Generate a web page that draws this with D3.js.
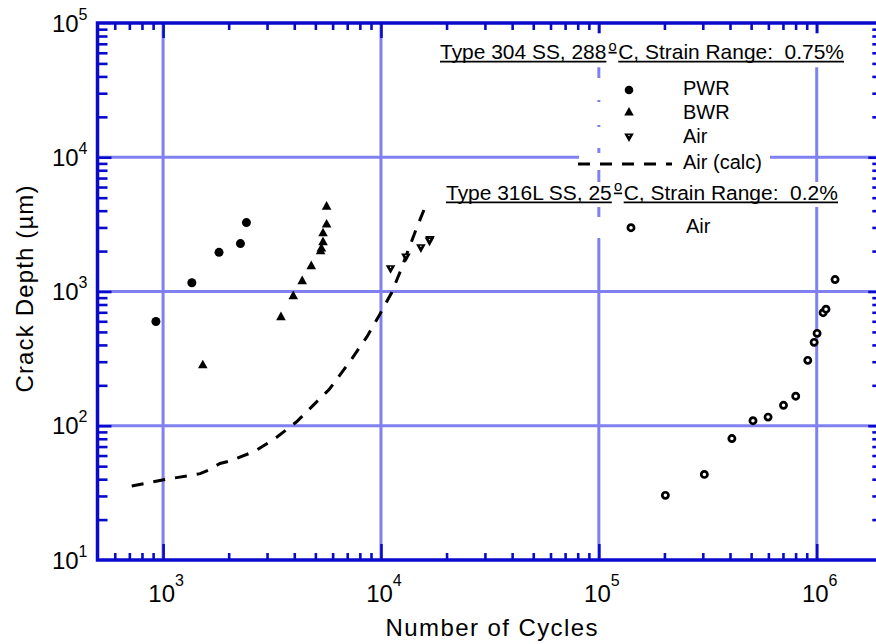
<!DOCTYPE html>
<html><head><meta charset="utf-8">
<script src="https://cdn.jsdelivr.net/npm/d3@7"></script>
<style>
body{margin:0;background:#fff}
svg{display:block}
text{font-family:"Liberation Sans",Arial,Helvetica,sans-serif;fill:#000;white-space:pre}
</style>
</head><body>
<svg id="chart" width="876" height="644"></svg>
<script>
// ---- data ----
const pwrCycles = [927, 1355, 1806, 2265, 2413];
const pwrDepth  = [598, 1161, 1958, 2275, 3260];

const bwrCycles = [1521, 3475, 3957, 4350, 4788, 5285, 5330, 5420, 5420, 5630, 5630];
const bwrDepth  = [282, 644, 923, 1193, 1543, 1995, 2090, 2330, 2715, 3150, 4285];

const air304Cycles = [11070, 13020, 15250, 16790, 16700];
const air304Depth  = [1490, 1820, 2135, 2465, 2395];

const airCalcCycles = [718, 1040, 1306, 1479, 1614, 1824, 2028, 2640, 3265, 4100, 5795, 7265, 8600, 9815, 11190, 12220, 14480, 15820];
const airCalcDepth  = [35.6, 40.0, 42.4, 44.0, 46.7, 52.4, 54.7, 64.6, 80.3, 107, 187, 307, 457, 663, 978, 1391, 2890, 4120];

const air316Cycles = [202000, 305000, 408000, 510000, 598000, 704000, 801000, 910000, 973000, 1004000, 1070000, 1103000, 1214000];
const air316Depth  = [30.3, 43.4, 80.3, 109, 116, 142, 166, 307, 418, 488, 695, 739, 1228];

const xDecadeExps = [3, 4, 5, 6];
const yDecadeExps = [1, 2, 3, 4, 5];
const xTitle = "Number of Cycles";
const yTitle = "Crack Depth (\u00b5m)";
const header304 = ["Type 304 SS, 288", "o", "C, Strain Range:  0.75%"];
const header316 = ["Type 316L SS, 25", "o", "C, Strain Range:  0.2%"];
const legendLabels = ["PWR", "BWR", "Air", "Air (calc)", "Air"];

// ---- chart ----
const svg = d3.select("#chart");
const axisCol = "#0a0acc", gridCol = "#8080f0";
const x = d3.scaleLog().domain([500, 2e6]).range([97.5, 882.3]);
const y = d3.scaleLog().domain([10, 1e5]).range([560, 23]);

svg.append("rect").attr("width", 876).attr("height", 644).attr("fill", "#fff");

// gridlines
const gridX = xDecadeExps.map(e => Math.pow(10, e));
const gridY = [2, 3, 4].map(e => Math.pow(10, e));
svg.append("g").selectAll("line").data(gridX).join("line")
  .attr("x1", d => x(d)).attr("x2", d => x(d)).attr("y1", y.range()[1]).attr("y2", y.range()[0])
  .attr("stroke", gridCol).attr("stroke-width", 3);
svg.append("g").selectAll("line").data(gridY).join("line")
  .attr("y1", d => y(d)).attr("y2", d => y(d)).attr("x1", x.range()[0]).attr("x2", x.range()[1])
  .attr("stroke", gridCol).attr("stroke-width", 3);

// ticks
const mult = [2, 3, 4, 5, 6, 7, 8, 9];
const minorX = [2, 3, 4, 5, 6].flatMap(e => mult.map(m => m * Math.pow(10, e))).filter(v => v > 500 && v < 2e6);
const minorY = [1, 2, 3, 4].flatMap(e => mult.map(m => m * Math.pow(10, e)));
const majorY = gridY;
const gAx = svg.append("g");
function addAxis(fn, scale, vals, size, tr) {
  gAx.append("g").attr("transform", tr)
    .call(fn(scale).tickValues(vals).tickSize(size).tickFormat(""))
    .call(g => g.select(".domain").remove())
    .call(g => g.selectAll("line").attr("stroke", axisCol).attr("stroke-width", 2.6));
}
const [x0, x1] = x.range(), [yb, yt] = y.range();
addAxis(d3.axisBottom, x, minorX, -7, `translate(0,${yb})`);
addAxis(d3.axisBottom, x, gridX, -16, `translate(0,${yb})`);
addAxis(d3.axisTop, x, minorX, -7, `translate(0,${yt})`);
addAxis(d3.axisTop, x, gridX, -15, `translate(0,${yt})`);
addAxis(d3.axisLeft, y, minorY, -10, `translate(${x0},0)`);
addAxis(d3.axisLeft, y, majorY, -14, `translate(${x0},0)`);
addAxis(d3.axisRight, y, minorY, -10, `translate(${x1},0)`);
addAxis(d3.axisRight, y, majorY, -14, `translate(${x1},0)`);
svg.append("rect").attr("x", x0).attr("y", yt).attr("width", x1 - x0).attr("height", yb - yt)
  .attr("fill", "none").attr("stroke", axisCol).attr("stroke-width", 3.5);

// tick labels
const xl = svg.append("g").selectAll("text").data(xDecadeExps).join("text")
  .attr("x", e => x(Math.pow(10, e)) + 3).attr("y", 602).attr("text-anchor", "middle").attr("font-size", 24);
xl.append("tspan").text("10");
xl.append("tspan").attr("dy", -16).attr("font-size", 16).text(e => e);
const yl = svg.append("g").selectAll("text").data(yDecadeExps).join("text")
  .attr("x", 87.5).attr("y", e => y(Math.pow(10, e)) + 8.5).attr("text-anchor", "end").attr("font-size", 24);
yl.append("tspan").text("10");
yl.append("tspan").attr("dy", -12).attr("font-size", 16).text(e => e);

// axis titles
svg.append("text").attr("x", 491.5).attr("y", 636).attr("text-anchor", "middle")
  .attr("font-size", 24).attr("textLength", 212).attr("lengthAdjust", "spacing").text(xTitle);
svg.append("text").attr("transform", "translate(33,289) rotate(-90)").attr("text-anchor", "middle")
  .attr("font-size", 24).attr("textLength", 207).attr("lengthAdjust", "spacing").text(yTitle);

// ---- legend white boxes ----
const boxes = [[579, 78, 191, 22], [579, 102, 191, 23], [579, 127, 191, 21], [579, 153, 191, 17], [579, 217, 191, 21]];
svg.append("g").selectAll("rect").data(boxes).join("rect")
  .attr("x", d => d[0]).attr("y", d => d[1]).attr("width", d => d[2]).attr("height", d => d[3]).attr("fill", "#fff");

// ---- data marks ----
const upTri = "M0,-5.6 L4.8,3 L-4.8,3 Z";
const dnTri = "M0,5.6 L4.8,-3 L-4.8,-3 Z";

const calcPts = airCalcCycles.map((c, i) => [c, airCalcDepth[i]]);
svg.append("path").datum(calcPts)
  .attr("d", d3.line().x(d => x(d[0])).y(d => y(d[1])))
  .attr("fill", "none").attr("stroke", "#000").attr("stroke-width", 3).attr("stroke-dasharray", "12,10");

svg.append("g").selectAll("circle").data(pwrCycles.map((c, i) => [c, pwrDepth[i]])).join("circle")
  .attr("cx", d => x(d[0])).attr("cy", d => y(d[1])).attr("r", 4.5).attr("fill", "#000");

svg.append("g").selectAll("path").data(bwrCycles.map((c, i) => [c, bwrDepth[i]])).join("path")
  .attr("transform", d => `translate(${x(d[0])},${y(d[1])})`).attr("d", upTri).attr("fill", "#000");

const ag = svg.append("g").selectAll("g").data(air304Cycles.map((c, i) => [c, air304Depth[i]])).join("g")
  .attr("transform", d => `translate(${x(d[0])},${y(d[1])})`);
ag.append("path").attr("d", dnTri).attr("fill", "#000");
ag.append("circle").attr("cy", -1).attr("r", 0.7).attr("fill", "#fff");

svg.append("g").selectAll("circle").data(air316Cycles.map((c, i) => [c, air316Depth[i]])).join("circle")
  .attr("cx", d => x(d[0])).attr("cy", d => y(d[1])).attr("r", 3.1)
  .attr("fill", "#fff").attr("stroke", "#000").attr("stroke-width", 2.7);

// ---- legend ----
function header(cx, base, parts, target, boxTop, boxBot) {
  const g = svg.append("g");
  const bg = g.append("rect").attr("fill", "#fff");
  const inner = g.append("g");
  const t1 = inner.append("text").attr("x", 0).attr("y", 0).attr("font-size", 20).text(parts[0]);
  const w1 = t1.node().getComputedTextLength();
  const t2 = inner.append("text").attr("x", w1 + 2).attr("y", -8.6).attr("font-size", 14).text(parts[1]);
  const w2 = t2.node().getComputedTextLength();
  const s3 = w1 + 2 + w2 + 1.5;
  const t3 = inner.append("text").attr("x", s3).attr("y", 0).attr("font-size", 20).text(parts[2]);
  const w3 = t3.node().getComputedTextLength();
  const total = s3 + w3;
  inner.append("line").attr("x1", 0).attr("x2", w1).attr("y1", 2.4).attr("y2", 2.4);
  inner.append("line").attr("x1", w1 + 2).attr("x2", w1 + 2 + w2).attr("y1", -6.6).attr("y2", -6.6);
  inner.append("line").attr("x1", s3).attr("x2", total).attr("y1", 2.4).attr("y2", 2.4);
  inner.selectAll("line").attr("stroke", "#000").attr("stroke-width", 1.7);
  const k = target / total;
  inner.attr("transform", `translate(${cx - target / 2},${base}) scale(${k},1)`);
  bg.attr("x", cx - target / 2 - 4).attr("width", target + 8).attr("y", base - boxTop).attr("height", boxTop + boxBot);
}
header(642, 59.3, header304, 404, 26, 8);
header(642, 200, header316, 392, 18, 7);

const lg = svg.append("g");
lg.append("circle").attr("cx", 629).attr("cy", 90).attr("r", 4.3).attr("fill", "#000");
lg.append("path").attr("transform", "translate(629,112.5)").attr("d", upTri).attr("fill", "#000");
lg.append("path").attr("transform", "translate(629,136.5)").attr("d", dnTri).attr("fill", "#000");
lg.append("circle").attr("cx", 629).attr("cy", 135.5).attr("r", 0.7).attr("fill", "#fff");
lg.append("line").attr("x1", 578).attr("x2", 672).attr("y1", 164).attr("y2", 164)
  .attr("stroke", "#000").attr("stroke-width", 3).attr("stroke-dasharray", "12,10");
lg.append("circle").attr("cx", 631).attr("cy", 227.7).attr("r", 3.1)
  .attr("fill", "#fff").attr("stroke", "#000").attr("stroke-width", 2.7);
const lpos = [[683, 95], [683, 119], [683, 143], [683, 169], [686, 233]];
lg.selectAll("text.lab").data(legendLabels).join("text").attr("class", "lab")
  .attr("x", (d, i) => lpos[i][0]).attr("y", (d, i) => lpos[i][1]).attr("font-size", 20).text(d => d);
</script>
</body></html>
